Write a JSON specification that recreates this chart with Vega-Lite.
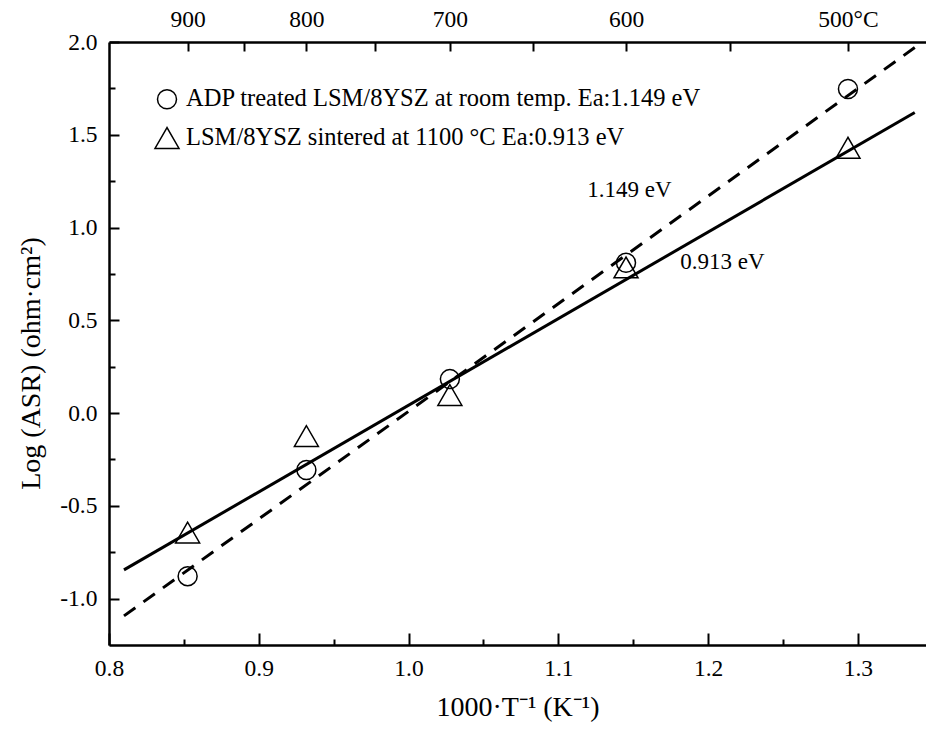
{
  "$schema": "https://vega.github.io/schema/vega-lite/v6.json",
  "width": 817,
  "height": 603,
  "autosize": {"type": "none"},
  "padding": {"left": 109, "top": 42, "right": 0, "bottom": 97},
  "background": "white",
  "config": {
    "view": {"stroke": null},
    "font": "Liberation Serif",
    "axis": {
      "domainColor": "black", "domainWidth": 2.5, "tickColor": "black", "tickWidth": 2,
      "labelColor": "black", "titleColor": "black", "labelFont": "Liberation Serif", "titleFont": "Liberation Serif",
      "labelFontSize": 23.5, "titleFontSize": 28, "titleFontWeight": "normal", "grid": false,
      "labelOverlap": false, "labelFlush": false, "labelBound": false
    },
    "legend": {"labelFont": "Liberation Serif", "labelFontSize": 24.5, "labelColor": "black", "labelLimit": 900}
  },
  "datasets": {
    "pts": [
      {"x": 0.8525, "y": -0.879, "series": "ADP treated LSM/8YSZ at room temp. Ea:1.149 eV"},
      {"x": 0.9318, "y": -0.307, "series": "ADP treated LSM/8YSZ at room temp. Ea:1.149 eV"},
      {"x": 1.0276, "y": 0.183, "series": "ADP treated LSM/8YSZ at room temp. Ea:1.149 eV"},
      {"x": 1.1452, "y": 0.81, "series": "ADP treated LSM/8YSZ at room temp. Ea:1.149 eV"},
      {"x": 1.2934, "y": 1.747, "series": "ADP treated LSM/8YSZ at room temp. Ea:1.149 eV"},
      {"x": 0.8525, "y": -0.644, "series": "LSM/8YSZ sintered at 1100 °C Ea:0.913 eV"},
      {"x": 0.9318, "y": -0.124, "series": "LSM/8YSZ sintered at 1100 °C Ea:0.913 eV"},
      {"x": 1.0276, "y": 0.097, "series": "LSM/8YSZ sintered at 1100 °C Ea:0.913 eV"},
      {"x": 1.1452, "y": 0.785, "series": "LSM/8YSZ sintered at 1100 °C Ea:0.913 eV"},
      {"x": 1.2934, "y": 1.43, "series": "LSM/8YSZ sintered at 1100 °C Ea:0.913 eV"}
    ],
    "dashfit": [
      {"x": 0.81, "y": -1.093},
      {"x": 1.338, "y": 1.97}
    ],
    "solidfit": [
      {"x": 0.81, "y": -0.845},
      {"x": 1.338, "y": 1.62}
    ],
    "notes": [
      {"x": 1.1193, "y": 1.2, "label": "1.149 eV"},
      {"x": 1.1814, "y": 0.814, "label": "0.913 eV"}
    ]
  },
  "layer": [
    {
      "data": {"name": "dashfit"},
      "mark": {"type": "line", "color": "black", "strokeWidth": 3, "strokeDash": [14, 10]},
      "encoding": {
        "x": {"field": "x", "type": "quantitative", "scale": {"domain": [0.8, 1.3455], "nice": false, "zero": false},
          "axis": {"orient": "bottom", "values": [0.8, 0.9, 1.0, 1.1, 1.2, 1.3], "labelExpr": "format(datum.value, '.1f')",
            "ticks": false, "labelPadding": 11, "title": "1000·T⁻¹ (K⁻¹)", "titlePadding": 14}},
        "y": {"field": "y", "type": "quantitative", "scale": {"domain": [-1.25, 2.0], "nice": false, "zero": false},
          "axis": {"orient": "left", "values": [-1.0, -0.5, 0.0, 0.5, 1.0, 1.5, 2.0], "labelExpr": "replace(format(datum.value, '.1f'), '−', '-')",
            "ticks": false, "labelPadding": 12, "title": "Log (ASR) (ohm·cm²)", "titlePadding": 14, "titleY": 321}}
      }
    },
    {
      "data": {"name": "solidfit"},
      "mark": {"type": "line", "color": "black", "strokeWidth": 3},
      "encoding": {
        "x": {"field": "x", "type": "quantitative", "scale": {"domain": [0.8, 1.3455], "nice": false, "zero": false},
          "axis": {"orient": "bottom", "values": [0.8, 0.9, 1.0, 1.1, 1.2, 1.3], "labels": false, "domain": false, "title": null, "tickSize": 12, "offset": -12}},
        "y": {"field": "y", "type": "quantitative", "scale": {"domain": [-1.25, 2.0], "nice": false, "zero": false},
          "axis": {"orient": "left", "values": [-1.0, -0.5, 0.0, 0.5, 1.0, 1.5, 2.0], "labels": false, "domain": false, "title": null, "tickSize": 10, "offset": -10}}
      }
    },
    {
      "data": {"name": "pts"},
      "transform": [{"filter": "datum.series == 'ADP treated LSM/8YSZ at room temp. Ea:1.149 eV'"}],
      "mark": {"type": "point", "filled": false, "color": "black", "strokeWidth": 1.5, "opacity": 1},
      "encoding": {
        "x": {"field": "x", "type": "quantitative", "scale": {"domain": [0.8, 1.3455], "nice": false, "zero": false},
          "axis": {"orient": "bottom", "values": [0.85, 0.95, 1.05, 1.15, 1.25], "labels": false, "domain": false, "title": null, "tickSize": 6, "offset": -6}},
        "y": {"field": "y", "type": "quantitative", "scale": {"domain": [-1.25, 2.0], "nice": false, "zero": false},
          "axis": {"orient": "left", "values": [-0.75, -0.25, 0.25, 0.75, 1.25, 1.75], "labels": false, "domain": false, "title": null, "tickSize": 6, "offset": -6}},
        "shape": {"field": "series", "type": "nominal",
          "scale": {"domain": ["ADP treated LSM/8YSZ at room temp. Ea:1.149 eV", "LSM/8YSZ sintered at 1100 °C Ea:0.913 eV"], "range": ["circle", "triangle-up"]},
          "legend": {"orient": "none", "legendX": 45, "legendY": 45, "title": null, "labelFontSize": 24.5, "labelFont": "Liberation Serif", "labelColor": "black",
            "labelLimit": 900, "rowPadding": 12, "labelOffset": 6, "symbolStrokeWidth": 1.5, "symbolStrokeColor": "black", "symbolFillColor": "transparent"}},
        "size": {"field": "series", "type": "nominal",
          "scale": {"domain": ["ADP treated LSM/8YSZ at room temp. Ea:1.149 eV", "LSM/8YSZ sintered at 1100 °C Ea:0.913 eV"], "range": [361, 576]},
          "legend": {"orient": "none", "legendX": 45, "legendY": 45, "title": null, "labelFontSize": 24.5, "labelFont": "Liberation Serif", "labelColor": "black",
            "labelLimit": 900, "rowPadding": 12, "labelOffset": 6, "symbolStrokeWidth": 1.5, "symbolStrokeColor": "black", "symbolFillColor": "transparent"}}
      }
    },
    {
      "data": {"name": "pts"},
      "transform": [{"filter": "datum.series == 'LSM/8YSZ sintered at 1100 °C Ea:0.913 eV'"}],
      "mark": {"type": "point", "filled": false, "color": "black", "strokeWidth": 1.5, "opacity": 1},
      "encoding": {
        "x": {"field": "x", "type": "quantitative", "scale": {"domain": [0.8, 1.3455], "nice": false, "zero": false},
          "axis": {"orient": "top", "values": [0.85245, 0.9318, 1.02759, 1.14525, 1.29341],
            "labelExpr": "round(1000/datum.value-273.15)==500 ? '500°C' : '' + round(1000/datum.value-273.15)",
            "ticks": false, "labelPadding": 11, "title": null}},
        "y": {"field": "y", "type": "quantitative", "scale": {"domain": [-1.25, 2.0], "nice": false, "zero": false}, "axis": null},
        "shape": {"field": "series", "type": "nominal",
          "scale": {"domain": ["ADP treated LSM/8YSZ at room temp. Ea:1.149 eV", "LSM/8YSZ sintered at 1100 °C Ea:0.913 eV"], "range": ["circle", "triangle-up"]},
          "legend": {"orient": "none", "legendX": 45, "legendY": 45, "title": null, "labelFontSize": 24.5, "labelFont": "Liberation Serif", "labelColor": "black",
            "labelLimit": 900, "rowPadding": 12, "labelOffset": 6, "symbolStrokeWidth": 1.5, "symbolStrokeColor": "black", "symbolFillColor": "transparent"}},
        "size": {"field": "series", "type": "nominal",
          "scale": {"domain": ["ADP treated LSM/8YSZ at room temp. Ea:1.149 eV", "LSM/8YSZ sintered at 1100 °C Ea:0.913 eV"], "range": [361, 576]},
          "legend": {"orient": "none", "legendX": 45, "legendY": 45, "title": null, "labelFontSize": 24.5, "labelFont": "Liberation Serif", "labelColor": "black",
            "labelLimit": 900, "rowPadding": 12, "labelOffset": 6, "symbolStrokeWidth": 1.5, "symbolStrokeColor": "black", "symbolFillColor": "transparent"}}
      }
    },
    {
      "data": {"name": "notes"},
      "mark": {"type": "text", "align": "left", "baseline": "middle", "fontSize": 23, "color": "black", "font": "Liberation Serif"},
      "encoding": {
        "x": {"field": "x", "type": "quantitative", "scale": {"domain": [0.8, 1.3455], "nice": false, "zero": false},
          "axis": {"orient": "top", "values": [0.85245, 0.89035, 0.9318, 0.97737, 1.02759, 1.08325, 1.14525, 1.21484, 1.29341],
            "labels": false, "domain": false, "title": null, "tickSize": 9, "offset": -9}},
        "y": {"field": "y", "type": "quantitative", "scale": {"domain": [-1.25, 2.0], "nice": false, "zero": false}, "axis": null},
        "text": {"field": "label"}
      }
    }
  ],
  "resolve": {"axis": {"x": "independent", "y": "independent"}}
}
